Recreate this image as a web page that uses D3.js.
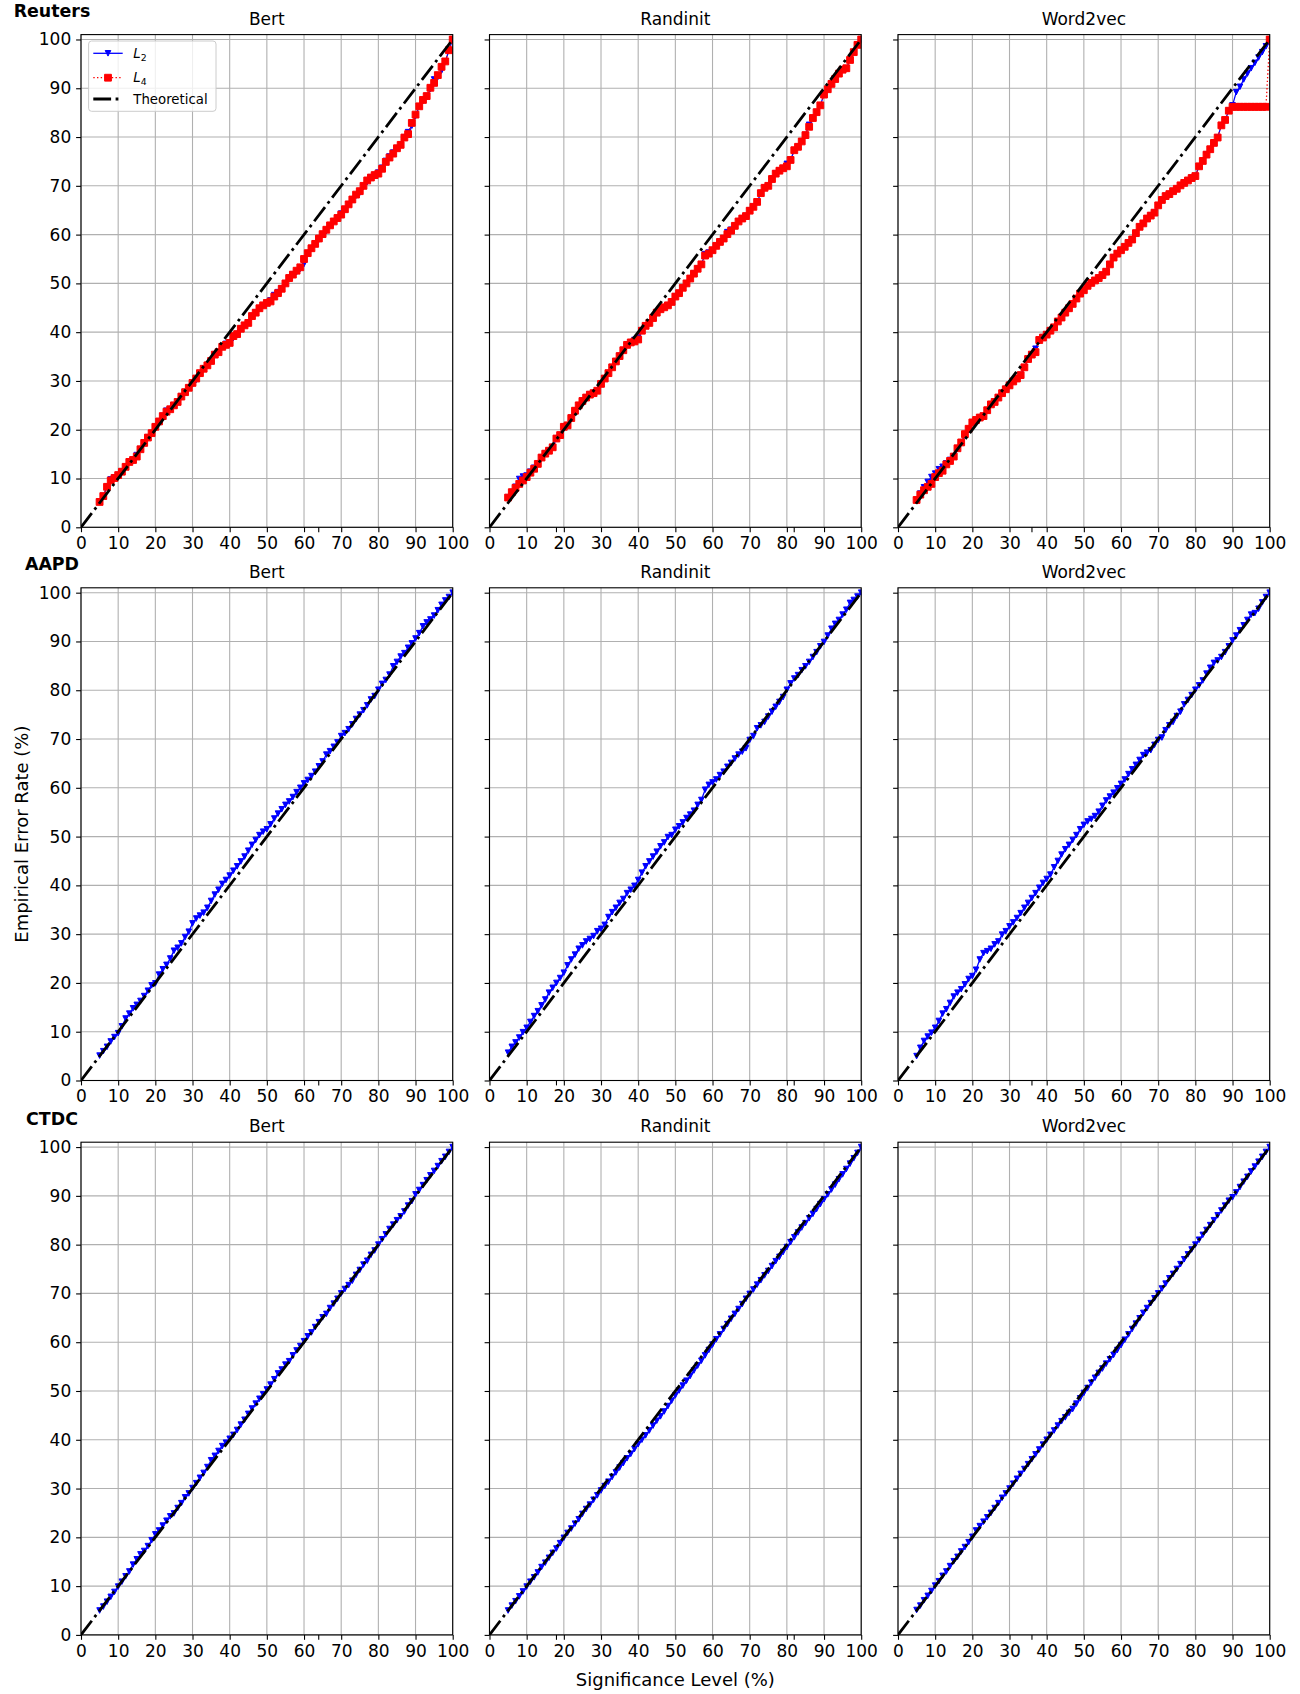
<!DOCTYPE html>
<html><head><meta charset="utf-8">
<script src="https://cdn.jsdelivr.net/npm/d3@7/dist/d3.min.js"></script>
<style>body{margin:0;background:#fff} svg{display:block} text{font-family:"DejaVu Sans",sans-serif}</style>
</head><body><svg id="c" width="1300" height="1694"></svg>
<script>
// ---------------- data ----------------
const datasets = ["Reuters", "AAPD", "CTDC"];
const embeddings = ["Bert", "Randinit", "Word2vec"];
const xTicks = [0,10,20,30,40,50,60,70,80,90,100];
const yTicks = [0,10,20,30,40,50,60,70,80,90,100];
const theoryX = [0, 100];
const theoryY = [0, 100];
const sigLevels = [5,6,7,8,9,10,11,12,13,14,15,16,17,18,19,20,21,22,23,24,25,26,27,28,29,30,31,32,33,34,35,36,37,38,39,40,41,42,43,44,45,46,47,48,49,50,51,52,53,54,55,56,57,58,59,60,61,62,63,64,65,66,67,68,69,70,71,72,73,74,75,76,77,78,79,80,81,82,83,84,85,86,87,88,89,90,91,92,93,94,95,96,97,98,99,100];

const reutersBertL2 = [5.2,6.4,8.3,9.8,10.2, 10.7,11.4,12.4,13.4,13.8,14.8,16.0,17.3,18.4,19.3, 20.6,21.7,22.8,23.9,24.2,25.0,25.7,26.8,27.7,28.6, 29.3,30.2,31.4,32.5,33.2,34.1,35.4,35.9,37.0,37.6, 37.8,38.8,39.6,40.7,41.4,41.9,43.3,44.0,44.9,45.5, 46.0,46.5,47.6,48.2,48.9,50.0,51.1,51.8,52.3,53.0, 54.0,56.0,57.2,58.1,59.0,59.9,60.7,61.9,62.7,63.4, 64.3,65.2,66.2,67.2,68.0,68.6,69.8,70.8,71.7,72.2, 72.7,73.7,75.1,76.0,76.8,77.7,78.4,79.9,81.0,82.3, 84.3,86.3,87.4,88.4,89.8,91.8,92.3,93.6,95.5,97.8,100];
const reutersBertL4 = [5.2,6.4,8.3,9.6,10.1, 10.7,11.4,12.4,13.4,13.8,14.5,16.0,17.3,18.4,19.3, 20.6,21.7,22.8,23.7,24.2,25.0,25.7,26.8,27.7,28.6, 29.6,30.5,31.6,32.5,33.2,34.1,35.4,35.9,37.0,37.4, 37.8,39.2,39.6,40.7,41.4,41.9,43.3,44.0,44.9,45.5, 46.0,46.3,47.3,48.0,48.9,50.0,51.1,51.8,52.6,53.3, 55.0,56.2,57.2,58.1,59.2,60.1,61.0,61.9,62.7,63.4, 64.1,65.2,66.2,67.2,68.2,68.9,70.0,71.1,71.7,72.2, 72.5,73.5,74.9,75.8,76.6,77.7,78.4,79.9,80.6,82.9, 84.6,86.3,87.6,88.4,90.1,91.1,92.7,94.4,95.5,97.8,100];

const reutersRandL2 = [6.1,7.2,8.3,9.9,10.4, 10.6,11.4,12.2,13.0,14.3,15.1,15.7,16.4,18.2,18.9, 20.6,20.9,22.4,23.9,25.0,25.9,26.6,27.2,27.5,28.0, 29.4,30.5,31.6,32.8,34.0,35.1,36.3,37.4,37.9,38.4, 38.9,40.3,41.3,41.9,42.9,44.0,44.7,45.1,45.5,46.2, 47.3,48.0,49.1,50.0,51.0,52.0,53.0,53.9,56.0,56.3, 56.8,57.7,58.5,59.2,60.5,61.0,61.8,62.7,63.3,63.8, 64.9,65.7,66.7,68.5,69.6,70.0,71.4,72.5,73.1,73.6, 74.5,75.3,77.3,78.0,79.1,80.4,82.5,83.9,85.1,86.5, 88.7,89.8,90.9,91.9,93.0,93.8,94.1,95.8,97.4,98.9,100];
const reutersRandL4 = [6.1,7.2,8.1,8.9,9.6, 10.3,11.2,12.0,13.0,14.3,15.1,15.7,16.4,18.2,18.9, 20.6,20.9,22.4,23.9,25.0,25.9,26.6,27.2,27.5,28.0, 29.4,30.5,31.6,32.8,34.0,35.1,36.3,37.4,37.9,38.1, 38.5,40.3,41.3,41.9,42.9,44.0,44.7,45.1,45.5,46.2, 47.3,48.0,49.1,50.0,51.0,52.0,53.0,53.9,55.7,56.1, 56.8,57.7,58.5,59.2,60.1,60.8,61.8,62.7,63.3,63.8, 64.9,65.7,66.7,68.5,69.6,70.0,71.4,72.5,73.1,73.6, 74.0,75.3,77.3,78.0,79.1,80.4,82.1,83.9,85.1,86.5, 88.7,89.8,90.9,91.9,93.0,93.8,94.1,95.8,97.4,98.9,100];

const reutersW2vL2 = [5.6,6.9,8.2,9.3,10.3, 11.0,11.9,12.4,13.1,13.8,14.5,16.2,17.4,18.8,20.0, 21.5,22.0,22.5,22.8,24.0,25.2,25.7,26.6,27.5,28.3, 29.1,29.9,30.5,31.2,32.8,34.5,35.4,36.6,38.4,38.9, 39.5,40.3,41.0,42.2,43.0,44.0,44.9,45.8,46.9,47.9, 48.6,49.5,50.1,50.6,51.1,51.7,52.4,53.9,55.3,56.1, 56.8,57.5,58.3,59.0,60.3,61.6,62.3,63.3,63.9,64.5, 66.0,67.1,67.9,68.3,68.9,69.4,70.1,70.6,71.1,71.6, 72.0,74.0,75.1,76.4,77.5,78.8,79.9,82.4,83.5,85.4, 86.5,89.2,90.3,91.8,93.0,94.1,95.2,96.3,97.4,98.6,100];
const reutersW2vL4 = [5.6,6.7,7.6,8.3,8.9, 10.3,11.1,11.6,12.9,13.6,14.5,16.2,17.4,19.1,20.2, 21.5,22.0,22.5,22.8,24.0,25.2,25.7,26.6,27.5,28.3, 29.1,29.9,30.5,31.2,32.8,34.5,35.4,35.9,38.4,38.9, 39.5,40.3,41.0,42.2,43.0,44.0,44.9,45.8,46.9,47.9, 48.6,49.5,50.1,50.6,51.1,51.7,52.4,53.9,55.3,56.1, 56.8,57.5,58.3,59.0,60.3,61.6,62.3,63.3,63.9,64.5, 66.0,67.1,67.9,68.3,68.9,69.4,70.1,70.6,71.1,71.6, 72.0,74.0,75.1,76.4,77.5,78.8,79.9,82.4,83.5,85.4, 86.2,86.2,86.2,86.2,86.2,86.2,86.2,86.2,86.2,86.2,100];

const aapdBertL2 = [5.1,6.0,6.9,8.0,8.9, 9.7,11.1,12.7,13.7,14.8,15.5,16.3,17.3,18.4,19.5, 19.9,21.7,22.8,23.7,25.0,26.6,27.2,28.1,29.4,30.5, 32.2,33.2,33.8,34.4,35.4,36.8,38.1,39.1,40.3,41.1, 42.0,43.0,43.9,44.9,45.9,47.1,48.3,49.3,50.3,51.0, 51.5,52.5,53.7,54.7,55.6,56.5,57.2,58.1,59.1,60.0, 60.9,61.6,62.4,63.3,64.4,65.4,66.8,67.5,68.4,69.3, 70.6,71.2,72.0,73.0,74.1,75.0,75.9,76.9,78.1,78.8, 80.1,81.3,82.1,83.2,84.9,85.8,86.9,87.6,88.7,89.6, 90.6,91.7,93.1,93.9,94.5,95.3,96.4,97.5,98.4,99.1,100];
const aapdRandL2 = [5.7,6.9,7.8,8.8,9.9, 10.8,12.0,13.2,14.2,15.4,16.6,18.0,19.0,20.0,21.0, 22.1,23.6,24.8,25.8,27.0,27.7,28.5,29.0,29.6,30.6, 31.1,31.9,33.5,34.5,35.4,36.4,37.2,38.4,39.1,39.9, 41.1,42.6,43.9,44.9,45.9,46.9,48.0,48.8,49.9,50.3, 51.4,52.1,52.9,53.8,54.5,55.3,56.5,57.5,59.6,60.6, 61.1,61.7,62.6,63.3,64.3,65.1,66.0,66.8,67.4,68.1, 69.8,70.6,72.2,72.8,73.5,74.6,75.6,76.6,77.6,78.6, 80.1,81.4,82.4,83.1,84.1,84.9,85.8,86.8,87.8,89.0, 89.9,91.2,92.6,93.6,94.4,95.5,96.5,97.9,98.5,99.2,100];
const aapdW2vL2 = [5.0,6.7,8.1,9.0,9.8, 10.8,12.2,13.7,14.6,15.9,17.2,18.0,18.7,19.7,20.8, 21.4,22.7,24.8,26.1,26.5,27.0,27.9,28.5,29.9,30.6, 31.6,32.4,33.3,34.3,35.4,36.4,37.4,38.4,39.5,40.5, 41.3,42.2,43.7,45.0,46.3,47.4,48.3,49.3,50.3,51.5, 52.4,53.1,53.6,54.2,55.1,56.3,57.4,58.2,59.0,59.9, 60.8,61.7,62.8,63.8,64.7,65.7,66.7,67.2,67.7,68.8, 69.8,70.3,71.8,72.8,73.5,74.7,75.6,77.1,78.0,79.0, 80.1,81.0,82.0,83.4,84.6,85.6,86.1,86.8,87.8,89.0, 90.2,91.2,92.3,93.3,94.4,95.5,95.8,96.7,98.0,99.1,100];

const ctdcBertL2 = [5.0,5.8,6.8,7.8,8.8, 9.9,10.9,12.0,13.0,14.4,15.5,16.5,17.2,18.2,19.4, 20.6,21.4,22.4,23.4,24.3,24.9,26.0,27.0,28.2,29.0, 30.1,31.1,32.2,33.2,34.4,35.8,36.7,37.7,38.7,39.4, 40.2,41.0,42.0,43.1,44.1,45.3,46.4,47.4,48.4,49.3, 50.3,51.3,52.4,53.6,54.4,55.4,56.1,57.3,58.3,59.2, 60.2,61.2,62.0,63.1,64.1,65.1,65.8,67.0,67.9,68.9, 70.0,70.9,71.7,72.6,73.8,74.8,75.9,76.7,77.9,78.8, 80.0,81.1,82.1,83.2,84.1,85.0,85.8,86.8,88.0,88.9, 90.3,91.2,92.2,93.2,94.2,95.1,96.1,97.1,98.0,99.0,100];
const ctdcRandL2 = [5.0,6.0,6.9,7.9,8.9, 9.9,10.9,11.8,12.8,13.9,14.8,15.8,16.8,17.7,18.8, 19.9,20.9,21.8,22.8,23.7,24.8,25.8,26.7,27.7,28.6, 29.6,30.5,31.4,32.4,33.3,34.3,35.2,36.2,37.1,38.1, 39.1,40.0,40.9,41.9,42.9,43.9,44.8,45.8,46.9,48.0, 49.1,50.1,51.1,52.1,53.1,54.2,55.2,56.2,57.3,58.4, 59.5,60.6,61.6,62.7,63.7,64.8,65.8,66.8,67.8,68.9, 69.9,70.8,71.8,72.7,73.7,74.6,75.6,76.6,77.5,78.5, 79.5,80.5,81.5,82.5,83.5,84.4,85.4,86.3,87.3,88.3, 89.3,90.3,91.3,92.3,93.4,94.4,95.5,96.6,97.7,98.8,100];
const ctdcW2vL2 = [5.1,6.0,7.1,8.0,9.0, 10.1,11.0,12.1,13.0,14.1,15.1,16.0,17.1,18.0,19.0, 20.1,21.4,22.3,23.2,24.1,25.0,26.0,27.0,28.1,29.0, 30.0,31.0,32.0,33.0,34.0,35.0,36.0,37.0,38.0,39.0, 40.0,41.0,41.9,42.9,43.8,44.6,45.5,46.3,47.4,48.5, 49.6,50.6,51.7,52.7,53.7,54.6,55.6,56.5,57.4,58.4, 59.4,60.5,61.6,62.7,63.8,64.9,66.0,67.0,68.0,69.0, 70.0,71.0,72.0,73.1,74.0,75.0,76.0,77.0,78.0,79.0, 80.0,81.0,82.0,83.0,84.0,85.0,86.0,87.0,88.0,89.0, 89.7,90.7,91.8,92.9,93.9,95.0,96.0,97.0,98.0,99.0,100];

// ---------------- layout ----------------
const svg = d3.select("#c");
const W = 371.7, H = 492.7;
const colLeft = [81, 489.5, 898];
const rowTop = [34.6, 587.8, 1142.2];
const TICK = 4.9, PAD = 4.9, FS = 17;

const panelSeries = [
  [[reutersBertL2, reutersBertL4], [reutersRandL2, reutersRandL4], [reutersW2vL2, reutersW2vL4]],
  [[aapdBertL2, null], [aapdRandL2, null], [aapdW2vL2, null]],
  [[ctdcBertL2, null], [ctdcRandL2, null], [ctdcW2vL2, null]]
];

const triDown = "M-2.8,-2.8L2.8,-2.8L0,2.8Z";
const square = "M-3.4,-3.4H3.4V3.4H-3.4Z";

function drawPanel(r, c) {
  const [l2, l4] = panelSeries[r][c];
  const x = d3.scaleLinear().domain([0, 100]).range([colLeft[c], colLeft[c] + W]);
  const y = d3.scaleLinear().domain([0, 101]).range([rowTop[r] + H, rowTop[r]]);
  const g = svg.append("g");
  const cid = "clip" + r + c;
  svg.append("clipPath").attr("id", cid).append("rect")
    .attr("x", colLeft[c]).attr("y", rowTop[r]).attr("width", W).attr("height", H);

  // grid
  g.append("g").selectAll("line").data(xTicks).join("line")
    .attr("x1", d => x(d)).attr("x2", d => x(d))
    .attr("y1", rowTop[r]).attr("y2", rowTop[r] + H)
    .attr("stroke", "#b0b0b0").attr("stroke-width", 1.1);
  g.append("g").selectAll("line").data(yTicks).join("line")
    .attr("x1", colLeft[c]).attr("x2", colLeft[c] + W)
    .attr("y1", d => y(d)).attr("y2", d => y(d))
    .attr("stroke", "#b0b0b0").attr("stroke-width", 1.1);

  const plot = g.append("g").attr("clip-path", `url(#${cid})`);
  const line = d3.line().x((d, i) => x(sigLevels[i])).y(d => y(d));

  // L2
  plot.append("path").datum(l2).attr("d", line)
    .attr("fill", "none").attr("stroke", "#0000ff").attr("stroke-width", 1.3);
  plot.append("g").selectAll("path").data(l2).join("path")
    .attr("transform", (d, i) => `translate(${x(sigLevels[i])},${y(d)})`)
    .attr("d", triDown).attr("fill", "#0000ff").attr("stroke", "#0000ff").attr("stroke-width", 1);

  // L4
  if (l4) {
    plot.append("path").datum(l4).attr("d", line)
      .attr("fill", "none").attr("stroke", "#ff0000").attr("stroke-width", 1.3)
      .attr("stroke-dasharray", "1.4,2.3");
    plot.append("g").selectAll("path").data(l4).join("path")
      .attr("transform", (d, i) => `translate(${x(sigLevels[i])},${y(d)})`)
      .attr("d", square).attr("fill", "#ff0000").attr("stroke", "#ff0000").attr("stroke-width", 1);
  }

  // theoretical
  plot.append("path").datum(theoryY)
    .attr("d", d3.line().x((d, i) => x(theoryX[i])).y(d => y(d)))
    .attr("fill", "none").attr("stroke", "#000").attr("stroke-width", 2.8)
    .attr("stroke-dasharray", "17.8,4.5,2.8,4.5");

  // spines
  g.append("rect").attr("x", colLeft[c]).attr("y", rowTop[r]).attr("width", W).attr("height", H)
    .attr("fill", "none").attr("stroke", "#000").attr("stroke-width", 1.1);

  // axes
  const xa = g.append("g").attr("transform", `translate(0,${rowTop[r] + H})`)
    .call(d3.axisBottom(x).tickValues(xTicks).tickFormat(d3.format("d")).tickSize(TICK).tickPadding(PAD));
  const ya = g.append("g").attr("transform", `translate(${colLeft[c]},0)`)
    .call(d3.axisLeft(y).tickValues(yTicks).tickFormat(c === 0 ? d3.format("d") : () => "").tickSize(TICK).tickPadding(PAD));
  [xa, ya].forEach(a => {
    a.select(".domain").remove();
    a.attr("font-family", "DejaVu Sans").attr("font-size", FS);
    a.selectAll("line").attr("stroke", "#000").attr("stroke-width", 1.1);
    a.selectAll("text").attr("fill", "#000");
  });

  // panel title
  g.append("text").attr("x", colLeft[c] + W / 2).attr("y", rowTop[r] - 10)
    .attr("text-anchor", "middle").attr("font-size", FS).attr("fill", "#000").text(embeddings[c]);
}

for (let r = 0; r < 3; r++) for (let c = 0; c < 3; c++) drawPanel(r, c);

// row-level overlay ticks (hidden axis spanning each row)
const overlayTicks = [0.2, 0.4, 0.6, 0.8];
rowTop.forEach(t => {
  const ox = d3.scaleLinear().domain([0, 1]).range([colLeft[0], colLeft[2] + W]);
  svg.append("g").selectAll("line").data(overlayTicks).join("line")
    .attr("x1", d => ox(d)).attr("x2", d => ox(d))
    .attr("y1", t + H).attr("y2", t + H + TICK)
    .attr("stroke", "#000").attr("stroke-width", 1.1);
});

// dataset labels
datasets.forEach((d, r) => {
  svg.append("text").attr("x", 52).attr("y", rowTop[r] - 17.4)
    .attr("text-anchor", "middle").attr("font-weight", "bold").attr("font-size", 17.4)
    .attr("fill", "#000").text(d);
});

// axis labels
svg.append("text").attr("transform", `translate(28,${rowTop[1] + H / 2}) rotate(-90)`)
  .attr("text-anchor", "middle").attr("font-size", 18).attr("fill", "#000").text("Empirical Error Rate (%)");
svg.append("text").attr("x", colLeft[1] + W / 2).attr("y", 1685.5)
  .attr("text-anchor", "middle").attr("font-size", 18).attr("fill", "#000").text("Significance Level (%)");

// legend
const lg = svg.append("g");
lg.append("rect").attr("x", 88.6).attr("y", 41).attr("width", 127.4).attr("height", 70.3).attr("rx", 3)
  .attr("fill", "#fff").attr("fill-opacity", 0.8).attr("stroke", "#cccccc").attr("stroke-width", 1);
const legendRows = [53.3, 77.7, 99];
// L2
lg.append("line").attr("x1", 93.3).attr("x2", 122.7).attr("y1", legendRows[0]).attr("y2", legendRows[0])
  .attr("stroke", "#0000ff").attr("stroke-width", 1.3);
lg.append("path").attr("transform", `translate(108,${legendRows[0]})`).attr("d", triDown)
  .attr("fill", "#0000ff").attr("stroke", "#0000ff");
// L4
lg.append("line").attr("x1", 93.3).attr("x2", 122.7).attr("y1", legendRows[1]).attr("y2", legendRows[1])
  .attr("stroke", "#ff0000").attr("stroke-width", 1.3).attr("stroke-dasharray", "1.4,2.3");
lg.append("path").attr("transform", `translate(108,${legendRows[1]})`).attr("d", square)
  .attr("fill", "#ff0000").attr("stroke", "#ff0000");
// theoretical
lg.append("line").attr("x1", 93.3).attr("x2", 122.7).attr("y1", legendRows[2]).attr("y2", legendRows[2])
  .attr("stroke", "#000").attr("stroke-width", 2.8).attr("stroke-dasharray", "17.8,4.5,2.8,4.5");
const legendLabels = [["L", "2"], ["L", "4"], ["Theoretical", null]];
legendLabels.forEach((lab, i) => {
  const t = lg.append("text").attr("x", 133.3).attr("y", legendRows[i]).attr("dy", "0.35em")
    .attr("font-size", 13.3).attr("fill", "#000");
  if (lab[1]) {
    t.append("tspan").attr("font-style", "italic").text(lab[0]);
    t.append("tspan").attr("font-size", 9.3).attr("dy", 3).text(lab[1]);
  } else {
    t.text(lab[0]);
  }
});
</script></body></html>
